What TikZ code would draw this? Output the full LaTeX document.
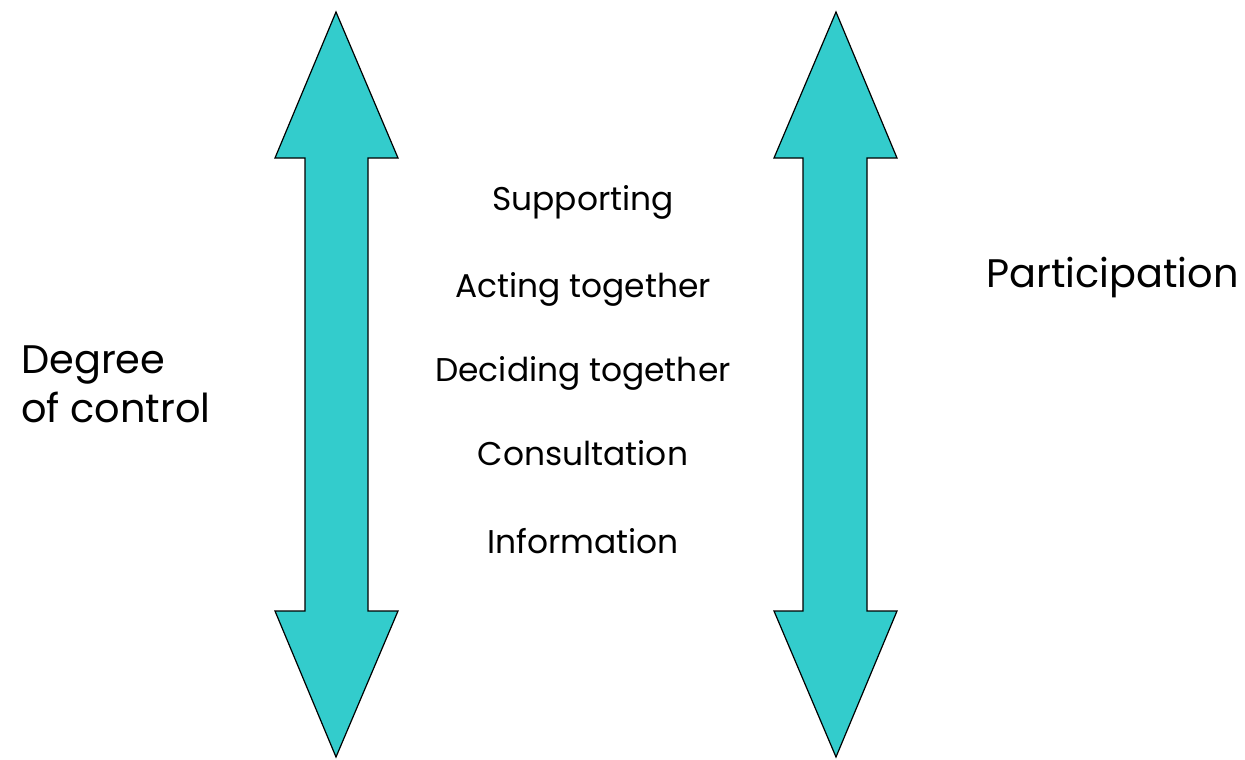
\documentclass[tikz,border=0pt]{standalone}
\usepackage{fontspec}
\setmainfont{Poppins}
\definecolor{teal1}{HTML}{33CCCC}
\begin{document}
\begin{tikzpicture}[x=1bp,y=-1bp,
  dblarrow/.style={fill=teal1,draw=black,line width=1.2bp,line join=miter},
  level/.style={anchor=base,font=\fontsize{33}{38}\selectfont},
  side/.style={anchor=base west,font=\fontsize{40}{46}\selectfont,align=left,inner sep=0pt}]
\useasboundingbox (0,0) rectangle (1245,760);
% left double arrow
\draw[dblarrow] (336,12) -- (398,158) -- (368,158) -- (368,611) -- (398,611) -- (336,757)
  -- (275,611) -- (305,611) -- (305,158) -- (275,158) -- cycle;
% right double arrow
\draw[dblarrow] (836,12) -- (897,158) -- (867,158) -- (867,611) -- (897,611) -- (836,757)
  -- (774,611) -- (803,611) -- (803,158) -- (774,158) -- cycle;
\node[level] (s1) at (583,210) {Supporting};
\node[level] (s2) at (583,297) {Acting together};
\node[level] (s3) at (583,381) {Deciding together};
\node[level] (s4) at (583,465) {Consultation};
\node[level] (s5) at (583,553) {Information};
\node[side] (deg) at (21,373) {Degree};
\node[side] (ctl) at (21,422) {of control};
\node[side] (par) at (986,287) {Participation};
\end{tikzpicture}
\end{document}
